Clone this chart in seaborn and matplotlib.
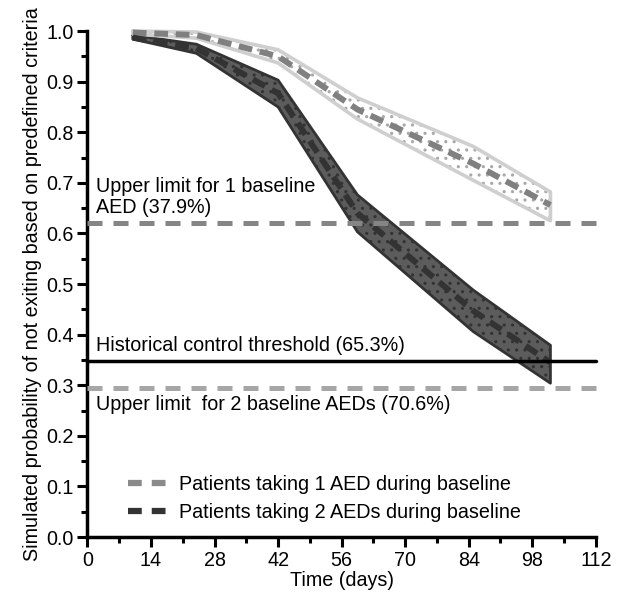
import numpy as np
import pandas as pd
import matplotlib
matplotlib.use("Agg")
import matplotlib.pyplot as plt
import seaborn as sns
from matplotlib.lines import Line2D

# time points (days) of the simulation
days = [10, 24, 42, 59.5, 85, 102]

# patients taking 1 AED during baseline
one_aed_mean = [0.997, 0.992, 0.950, 0.845, 0.738, 0.656]
one_aed_upper = [1.000, 0.998, 0.963, 0.868, 0.772, 0.682]
one_aed_lower = [0.994, 0.986, 0.937, 0.826, 0.705, 0.625]

# patients taking 2 AEDs during baseline
two_aed_mean = [0.987, 0.966, 0.877, 0.640, 0.447, 0.345]
two_aed_upper = [0.992, 0.974, 0.903, 0.676, 0.488, 0.379]
two_aed_lower = [0.984, 0.956, 0.850, 0.603, 0.406, 0.304]

# reference lines
limit_1_aed = 1 - 0.379
limit_2_aed = 1 - 0.706
hist_threshold = 1 - 0.653

x_ticks = [0, 14, 28, 42, 56, 70, 84, 98, 112]
y_ticks = [0.0, 0.1, 0.2, 0.3, 0.4, 0.5, 0.6, 0.7, 0.8, 0.9, 1.0]

df = pd.DataFrame({
    "day": days * 2,
    "prob": one_aed_mean + two_aed_mean,
    "group": ["Patients taking 1 AED during baseline"] * len(days)
             + ["Patients taking 2 AEDs during baseline"] * len(days),
})

sns.set_style("ticks")
plt.rcParams["font.family"] = ["Liberation Sans", "DejaVu Sans"]
plt.rcParams["text.color"] = "black"
plt.rcParams["axes.labelcolor"] = "black"
plt.rcParams["xtick.color"] = "black"
plt.rcParams["ytick.color"] = "black"
FS = 14.2

fig = plt.figure(figsize=(6.2, 5.97), dpi=100)
ax = fig.add_axes([0.141, 0.1005, 0.82, 0.8475])

# ---- 2 AEDs band (dark) ----
plt.rcParams["hatch.linewidth"] = 1.1
ax.fill_between(days, two_aed_lower, two_aed_upper, facecolor="#5c5c5c",
                edgecolor="none", zorder=2)
ax.fill_between(days, two_aed_lower, two_aed_upper, facecolor="none",
                edgecolor="#333333", hatch="..", linewidth=0, zorder=2.1)
ax.plot(days + days[::-1] + [days[0]],
        two_aed_upper + two_aed_lower[::-1] + [two_aed_upper[0]],
        color="#333333", lw=2, zorder=2.2)

# ---- 1 AED band (light) ----
ax.fill_between(days, one_aed_lower, one_aed_upper, facecolor="white",
                edgecolor="none", zorder=3)
ax.fill_between(days, one_aed_lower, one_aed_upper, facecolor="none",
                edgecolor="#a8a8a8", hatch="..", linewidth=0, zorder=3.1)
ax.plot(days + days[::-1] + [days[0]],
        one_aed_upper + one_aed_lower[::-1] + [one_aed_upper[0]],
        color="#cfcfcf", lw=2.6, zorder=3.2)

# ---- mean lines ----
sns.lineplot(data=df, x="day", y="prob", hue="group",
             palette=["#808080", "#333333"], linewidth=4.3, ax=ax,
             legend=False, zorder=4)
for ln in ax.get_lines()[-2:]:
    ln.set_dashes((2.3, 1.3))
    ln.set_dash_capstyle("butt")

# ---- reference lines ----
ax.axhline(limit_1_aed, color="#858585", lw=3.6, dashes=(3, 2.2), zorder=5)
ax.axhline(limit_2_aed, color="#a6a6a6", lw=3.6, dashes=(3, 2.2), zorder=5)
ax.axhline(hist_threshold, color="black", lw=2.5, zorder=5)

ax.text(2.0, 0.633, "Upper limit for 1 baseline\nAED (37.9%)", fontsize=FS,
        va="bottom", ha="left", linespacing=1.1)
ax.text(2.0, hist_threshold + 0.013, "Historical control threshold (65.3%)",
        fontsize=FS, va="bottom", ha="left")
ax.text(2.0, limit_2_aed - 0.014, "Upper limit  for 2 baseline AEDs (70.6%)",
        fontsize=FS, va="top", ha="left")

# ---- legend ----
handles = [
    Line2D([], [], color="#8a8a8a", lw=4.5, dashes=(2.2, 1.6)),
    Line2D([], [], color="#333333", lw=4.5, dashes=(2.2, 1.6)),
]
ax.legend(handles, ["Patients taking 1 AED during baseline",
                    "Patients taking 2 AEDs during baseline"],
          loc="lower left", bbox_to_anchor=(0.045, -0.005), frameon=False,
          fontsize=FS, handlelength=1.95, handletextpad=0.65,
          labelspacing=0.45)

# ---- axes ----
ax.set_xlim(0, 112)
ax.set_ylim(0, 1.0)
ax.set_xticks(x_ticks)
ax.set_yticks(y_ticks)
ax.set_yticklabels([f"{v:.1f}" for v in y_ticks])
ax.set_xticks(np.arange(7, 112, 14), minor=True)
ax.set_yticks(np.arange(0.05, 1.0, 0.1), minor=True)
ax.tick_params(axis="both", which="major", length=7, width=2.2,
               labelsize=FS, direction="out", pad=3)
ax.tick_params(axis="both", which="minor", length=4, width=2.2,
               direction="out")
for s in ["left", "bottom"]:
    ax.spines[s].set_linewidth(2.5)
    ax.spines[s].set_color("black")
sns.despine(ax=ax)

ax.set_xlabel("Time (days)", fontsize=FS, labelpad=1)
ax.set_ylabel("Simulated probability of not exiting based on predefined criteria",
              fontsize=FS, labelpad=3)

for ln in ax.get_lines():
    ln.set_clip_on(False)

fig.savefig("out.png", dpi=100)
